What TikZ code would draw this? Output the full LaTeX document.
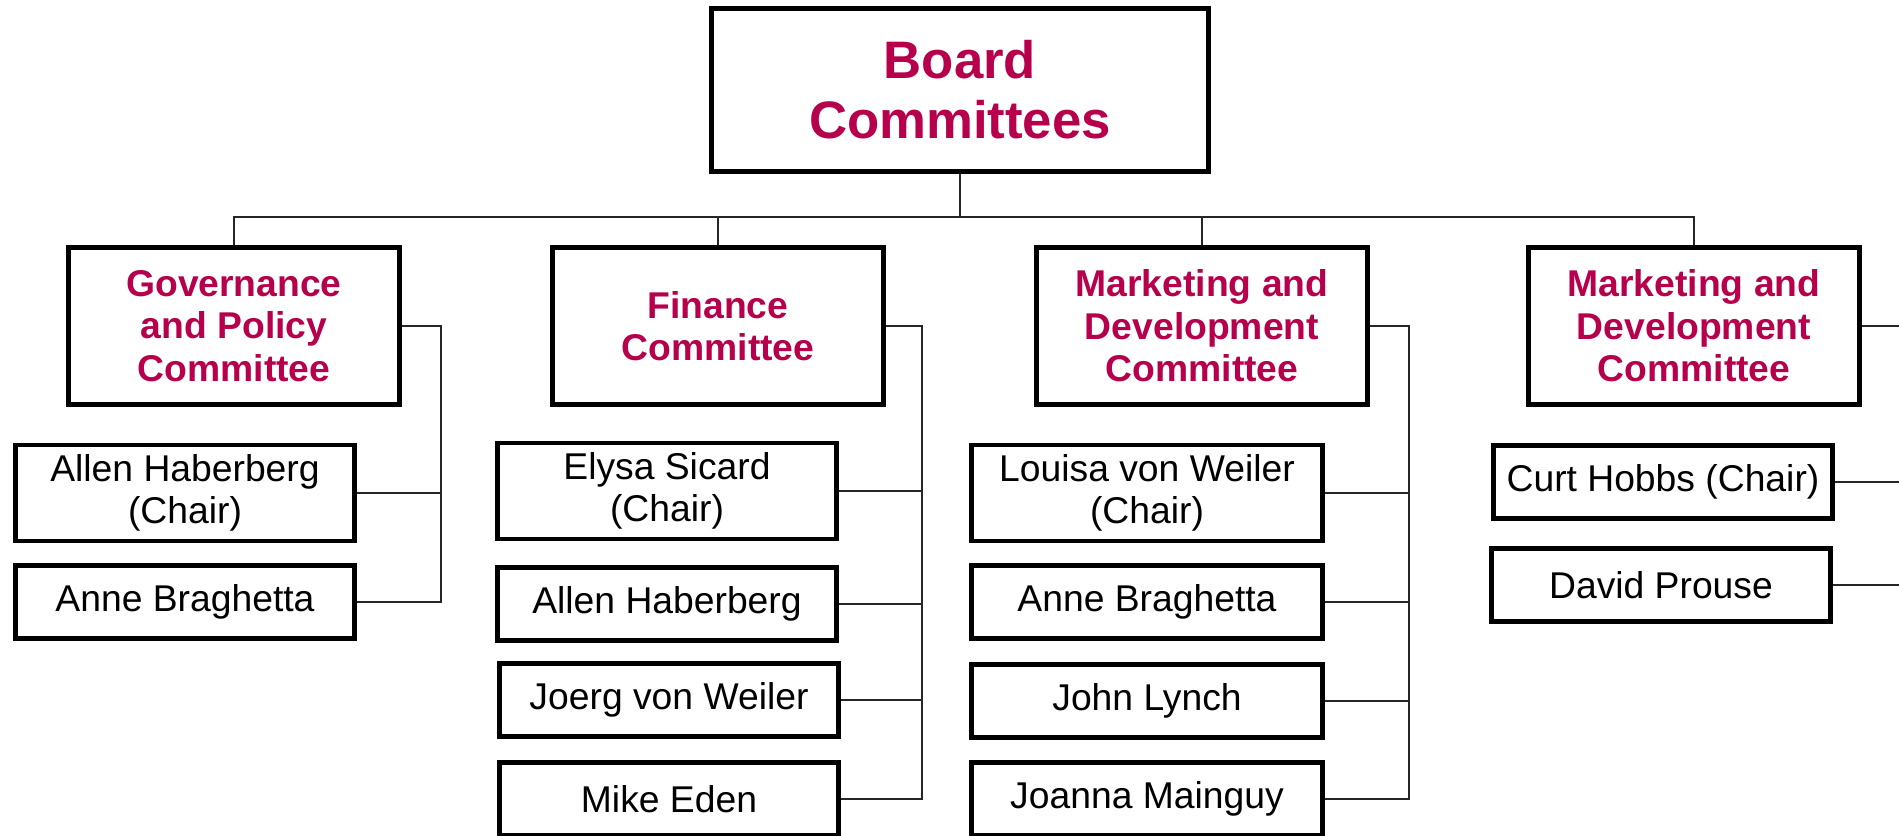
\documentclass[tikz,border=0pt]{standalone}
\usepackage{fontspec}
\setmainfont{Liberation Sans}
\usepackage{xcolor}
\definecolor{boardred}{RGB}{183,0,76}

\begin{document}
\begin{tikzpicture}[x=0.01cm,y=-0.01cm,
  box/.style={draw,line width=1.4pt,align=center,inner sep=0pt},
  top/.style={box,minimum width=4.96cm,minimum height=1.62cm,text=boardred,font=\fontsize{15}{17}\selectfont\bfseries},
  committee/.style={box,minimum width=3.3cm,minimum height=1.565cm,text=boardred,font=\fontsize{10.6}{12.1}\selectfont\bfseries},
  member/.style={box,minimum width=3.39cm,minimum height=0.735cm,font=\fontsize{10.6}{12}\selectfont},
  chair/.style={member,minimum height=0.96cm},
  link/.style={line width=0.35pt,black!85}]

\useasboundingbox (0,0) rectangle (1899,836) ;

%board
\node [top] (board) at (960,90) {Board\\Committees} ;

%committees
\node [committee] (gov) at (234,326) {Governance\\and Policy\\Committee} ;
\node [committee] (fin) at (718,326) {Finance\\Committee} ;
\node [committee] (mdA) at (1202,326) {Marketing and\\Development\\Committee} ;
\node [committee] (mdB) at (1694,326) {Marketing and\\Development\\Committee} ;

%board to committees
\coordinate (bus) at (960,217) ;
\draw [link] (board.south) -- (bus) -| (gov.north) ;
\draw [link] (bus) -| (fin.north) ;
\draw [link] (bus) -| (mdA.north) ;
\draw [link] (bus) -| (mdB.north) ;

%governance members
\node [chair] (gov1) at (185,493) {Allen Haberberg\\(Chair)} ;
\node [member] (gov2) at (185,602) {Anne Braghetta} ;

\coordinate (govspine) at (441,326) ;
\draw [link] (gov.east) -- (govspine) |- (gov2.east) ;
\draw [link] (gov1.east) -- (gov1.east -| govspine) ;

%finance members
\node [chair] (fin1) at (667,491) {Elysa Sicard\\(Chair)} ;
\node [member] (fin2) at (667,604) {Allen Haberberg} ;
\node [member] (fin3) at (669,700) {Joerg von Weiler} ;
\node [member] (fin4) at (669,799) {Mike Eden} ;

\coordinate (finspine) at (922,326) ;
\draw [link] (fin.east) -- (finspine) |- (fin4.east) ;
\draw [link] (fin1.east) -- (fin1.east -| finspine) ;
\draw [link] (fin2.east) -- (fin2.east -| finspine) ;
\draw [link] (fin3.east) -- (fin3.east -| finspine) ;

%marketing members
\node [chair,minimum width=3.5cm] (mdA1) at (1147,493) {Louisa von Weiler\\(Chair)} ;
\node [member,minimum width=3.5cm] (mdA2) at (1147,602) {Anne Braghetta} ;
\node [member,minimum width=3.5cm] (mdA3) at (1147,701) {John Lynch} ;
\node [member,minimum width=3.5cm] (mdA4) at (1147,799) {Joanna Mainguy} ;

\coordinate (mdAspine) at (1409,326) ;
\draw [link] (mdA.east) -- (mdAspine) |- (mdA4.east) ;
\draw [link] (mdA1.east) -- (mdA1.east -| mdAspine) ;
\draw [link] (mdA2.east) -- (mdA2.east -| mdAspine) ;
\draw [link] (mdA3.east) -- (mdA3.east -| mdAspine) ;

%second marketing members
\node [member] (mdB1) at (1663,482) {Curt Hobbs (Chair)} ;
\node [member] (mdB2) at (1661,585) {David Prouse} ;

\coordinate (mdBspine) at (1901,326) ;
\draw [link] (mdB.east) -- (mdBspine) |- (mdB2.east) ;
\draw [link] (mdB1.east) -- (mdB1.east -| mdBspine) ;

\end{tikzpicture}
\end{document}
